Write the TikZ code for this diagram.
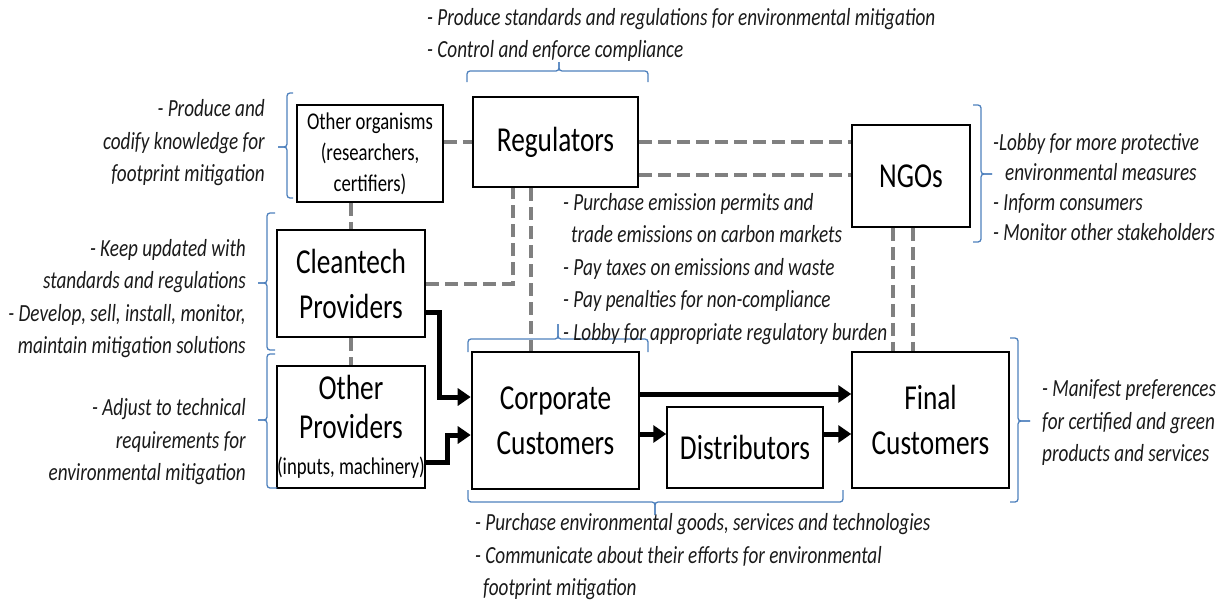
\documentclass[tikz,border=0pt]{standalone}
\usepackage{fontspec}
\setmainfont{Carlito}[FakeStretch=0.78]
\usetikzlibrary{arrows.meta,calc}
\definecolor{bracecol}{HTML}{4F81BD}
\definecolor{linkgray}{HTML}{808080}
\definecolor{notecol}{HTML}{1A1A1A}

\begin{document}
\begin{tikzpicture}[x=1pt,y=-1pt,
    box/.style={draw,fill=white,line width=1.5pt,inner sep=0pt,align=center,font=\fontsize{35}{45}\selectfont},
    heavybox/.style={box,line width=2.6pt},
    note/.style={inner sep=0pt,text=notecol,font=\fontsize{24.6}{32.5}\selectfont\itshape},
    link/.style={draw=linkgray,line width=4pt,dash pattern=on 13pt off 6pt},
    flow/.style={line width=5pt,-{Triangle[length=13pt,width=17pt]}},
    brace/.style={draw=bracecol,line width=1.3pt,rounded corners=3pt}]
      \useasboundingbox (0,0) rectangle (1228,603);
      \node[box,minimum width=146pt,minimum height=97pt,font=\fontsize{24}{31}\selectfont] (org) at (370,153.5) {Other organisms\\(researchers,\\certifiers)};
      \node[heavybox,line width=2pt,minimum width=165pt,minimum height=90pt] (reg) at (555.5,142) {Regulators};
      \node[box,minimum width=118pt,minimum height=102pt] (ngo) at (911,176) {NGOs};
      \node[heavybox,minimum width=148pt,minimum height=107pt] (clean) at (351,283.5) {Cleantech\\Providers};
      \node[box,minimum width=148pt,minimum height=122pt] (oprov) at (351,427) {Other\\[-6pt]Providers\\[-9pt]{\fontsize{24}{28}\selectfont(inputs, machinery)}};
      \node[heavybox,minimum width=167pt,minimum height=137pt] (corp) at (555.5,420.5) {Corporate\\Customers};
      \node[box,minimum width=156pt,minimum height=81pt] (dist) at (745,447.5) {Distributors};
      \node[box,minimum width=157pt,minimum height=136pt] (final) at (930.5,420) {Final\\Customers};

      \draw[link] (org.east |- reg.west) -- (reg.west);
      \draw[link] (reg.east) -- (reg.east -| ngo.west);
      \draw[link] ([yshift=-33pt]reg.east) -- ([yshift=-33pt]reg.east -| ngo.west);
      \draw[link] (clean.north |- org.south) -- (clean.north);
      \draw[link] (clean.south) -- (oprov.north);
      \draw[link] (clean.east) -| ([xshift=-42.5pt]reg.south);
      \draw[link] ([xshift=-24.5pt]reg.south) -- ([xshift=-24.5pt]reg.south |- corp.north);
      \draw[link] ([xshift=-18pt]ngo.south) -- ([xshift=-18pt]ngo.south |- final.north);
      \draw[link] ([xshift=2pt]ngo.south) -- ([xshift=2pt]ngo.south |- final.north);

      \draw[flow] ([yshift=-28.5pt]clean.east) -- ++(13,0) |- ([yshift=23.5pt]corp.west);
      \draw[flow] ([yshift=-35pt]oprov.east) -- ++(22,0) |- ([yshift=-14.5pt]corp.west);
      \draw[flow] ([yshift=26.5pt]corp.east) -- ([yshift=26.5pt]corp.east -| final.west);
      \draw[flow] ([yshift=-13.5pt]corp.east) -- ([yshift=-13.5pt]corp.east -| dist.west);
      \draw[flow] ([yshift=-13.5pt]corp.east -| dist.east) -- ([yshift=-13.5pt]corp.east -| final.west);

      \draw[brace] (293,93) -- (287,93) -- (287,147) -- (278,147);
      \draw[brace] (293,198) -- (287,198) -- (287,147) -- (278,147);
      \draw[brace] (275,213) -- (267,213) -- (267,283) -- (258,283);
      \draw[brace] (275,350) -- (267,350) -- (267,283) -- (258,283);
      \draw[brace] (275,354) -- (267,354) -- (267,420) -- (258,420);
      \draw[brace] (277,488) -- (267,488) -- (267,420) -- (258,420);
      \draw[brace] (467,82) -- (467,71) -- (559,71) -- (559,62);
      \draw[brace] (648,82) -- (648,71) -- (559,71) -- (559,62);
      \draw[brace] (468,352) -- (468,339) -- (558,339) -- (558,324);
      \draw[brace] (648,352) -- (648,339) -- (558,339) -- (558,324);
      \draw[brace] (468,490) -- (468,502) -- (655,502) -- (655,515);
      \draw[brace] (843,490) -- (843,502) -- (655,502) -- (655,515);
      \draw[brace] (973,105) -- (981,105) -- (981,174) -- (992,174);
      \draw[brace] (973,242) -- (981,242) -- (981,174) -- (992,174);
      \draw[brace] (1010,338) -- (1018,338) -- (1018,421) -- (1030,421);
      \draw[brace] (1010,502) -- (1018,502) -- (1018,421) -- (1030,421);

      \node[note,anchor=west,align=left] (regnote) at (427,35) {- Produce standards and regulations for environmental mitigation\\- Control and enforce compliance};
      \node[note,anchor=east,align=right] (orgnote) at (265,143) {- Produce and\\codify knowledge for\\footprint mitigation};
      \node[note,anchor=east,align=right] (cleannote) at (246,298.5) {- Keep updated with\\standards and regulations\\- Develop, sell, install, monitor,\\maintain mitigation solutions};
      \node[note,anchor=east,align=right] (oprovnote) at (246,442) {- Adjust to technical\\requirements for\\environmental mitigation};
      \node[note,anchor=west,align=left] (paynote) at (563,269) {- Purchase emission permits and\\\hspace*{8pt}trade emissions on carbon markets\\- Pay taxes on emissions and waste\\- Pay penalties for non-compliance\\- Lobby for appropriate regulatory burden};
      \node[note,anchor=west,align=left,font=\fontsize{24.6}{30}\selectfont\itshape] (ngonote) at (993,187) {-Lobby for more protective\\\hspace*{12pt}environmental measures\\- Inform consumers\\- Monitor other stakeholders};
      \node[note,anchor=west,align=left] (finalnote) at (1042,423) {- Manifest preferences\\for certified and green\\products and services};
      \node[note,anchor=west,align=left] (corpnote) at (475,557) {- Purchase environmental goods, services and technologies\\- Communicate about their efforts for environmental\\\hspace*{8pt}footprint mitigation};
    \end{tikzpicture}
\end{document}
